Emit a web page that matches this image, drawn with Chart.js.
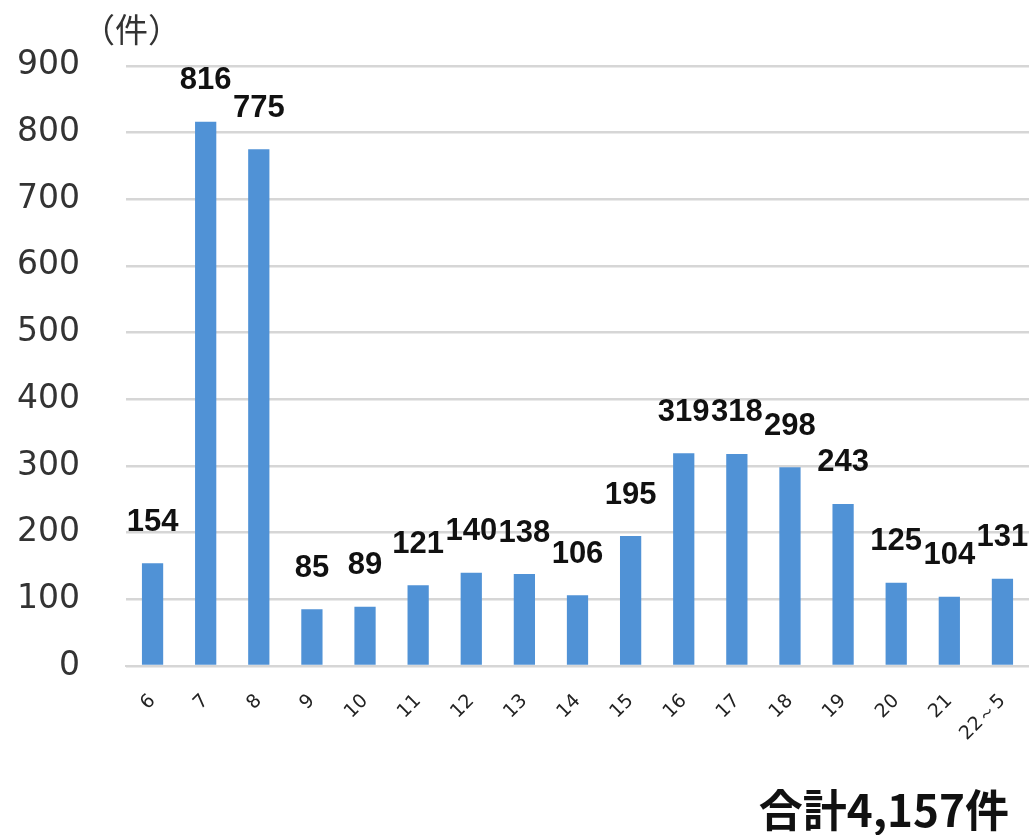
<!DOCTYPE html>
<html lang="ja">
<head>
<meta charset="utf-8">
<title>時間帯別件数</title>
<script src="https://cdn.jsdelivr.net/npm/chart.js@4/dist/chart.umd.min.js"></script>
<style>
    body { margin: 0; background: #fff; }
    .wrap { position: relative; width: 1029px; height: 835px; overflow: hidden; }
    #hourChart { position: absolute; left: 0; top: 0; }
    .unit {
        position: absolute; left: 82px; top: 4px;
        font-family: "Noto Sans CJK JP", sans-serif; font-size: 33px; color: #333;
        line-height: 48px;
    }
    .total {
        position: absolute; right: 20px; top: 776px;
        font-family: "Noto Sans CJK JP", sans-serif; font-size: 44px; font-weight: bold; color: #111;
        line-height: 64px; white-space: nowrap;
    }
</style>
</head>
<body>
<div class="wrap">
    <canvas id="hourChart" width="1029" height="835"></canvas>
    <div class="unit">（件）</div>
    <div class="total">合計4,157件</div>
</div>
<script>
// 時間帯（時）
const hours = ['6', '7', '8', '9', '10', '11', '12', '13', '14', '15', '16', '17', '18', '19', '20', '21', '22～5'];
// 件数
const counts = [154, 816, 775, 85, 89, 121, 140, 138, 106, 195, 319, 318, 298, 243, 125, 104, 131];
// 縦軸目盛
const yTicks = [0, 100, 200, 300, 400, 500, 600, 700, 800, 900];

// 棒の上に件数を描く
const valueLabels = {
    id: 'valueLabels',
    afterDatasetsDraw(chart) {
        const ctx = chart.ctx;
        const meta = chart.getDatasetMeta(0);
        ctx.save();
        ctx.font = 'bold 31px "Liberation Sans", Arial, sans-serif';
        ctx.fillStyle = '#111';
        ctx.textAlign = 'center';
        ctx.textBaseline = 'middle';
        meta.data.forEach((bar, i) => {
            ctx.fillText(String(counts[i]), bar.x, bar.y - 41);
        });
        ctx.restore();
    }
};

function initChart() {
    const ctx = document.getElementById('hourChart').getContext('2d');
    new Chart(ctx, {
        type: 'bar',
        data: {
            labels: hours,
            datasets: [{
                data: counts,
                backgroundColor: '#5092d6',
                barPercentage: 0.4,
                categoryPercentage: 1.0
            }]
        },
        options: {
            responsive: false,
            animation: false,
            layout: { padding: { top: 62, right: 0, bottom: 0, left: 0 } },
            plugins: {
                legend: { display: false },
                tooltip: { enabled: false }
            },
            scales: {
                x: {
                    grid: { display: false, drawTicks: false },
                    border: { display: true, color: '#d6d6d6', width: 2 },
                    ticks: {
                        autoSkip: false,
                        minRotation: 45,
                        maxRotation: 45,
                        padding: 24,
                        color: '#222',
                        font: { family: '"DejaVu Sans", sans-serif', size: 19 }
                    },
                    afterFit(scale) {
                        scale.height = 169;
                        scale.paddingLeft = 0;
                        scale.paddingRight = 0;
                    }
                },
                y: {
                    min: 0,
                    max: 900,
                    afterBuildTicks(scale) { scale.ticks = yTicks.map(v => ({ value: v })); },
                    grid: { color: '#d6d6d6', lineWidth: 2.5, drawTicks: false },
                    border: { display: false },
                    ticks: {
                        padding: 46,
                        color: '#333',
                        font: { family: '"DejaVu Sans", sans-serif', size: 33 }
                    },
                    afterFit(scale) { scale.width = 126; }
                }
            }
        },
        plugins: [valueLabels]
    });
}

document.addEventListener('DOMContentLoaded', initChart);
</script>
</body>
</html>
